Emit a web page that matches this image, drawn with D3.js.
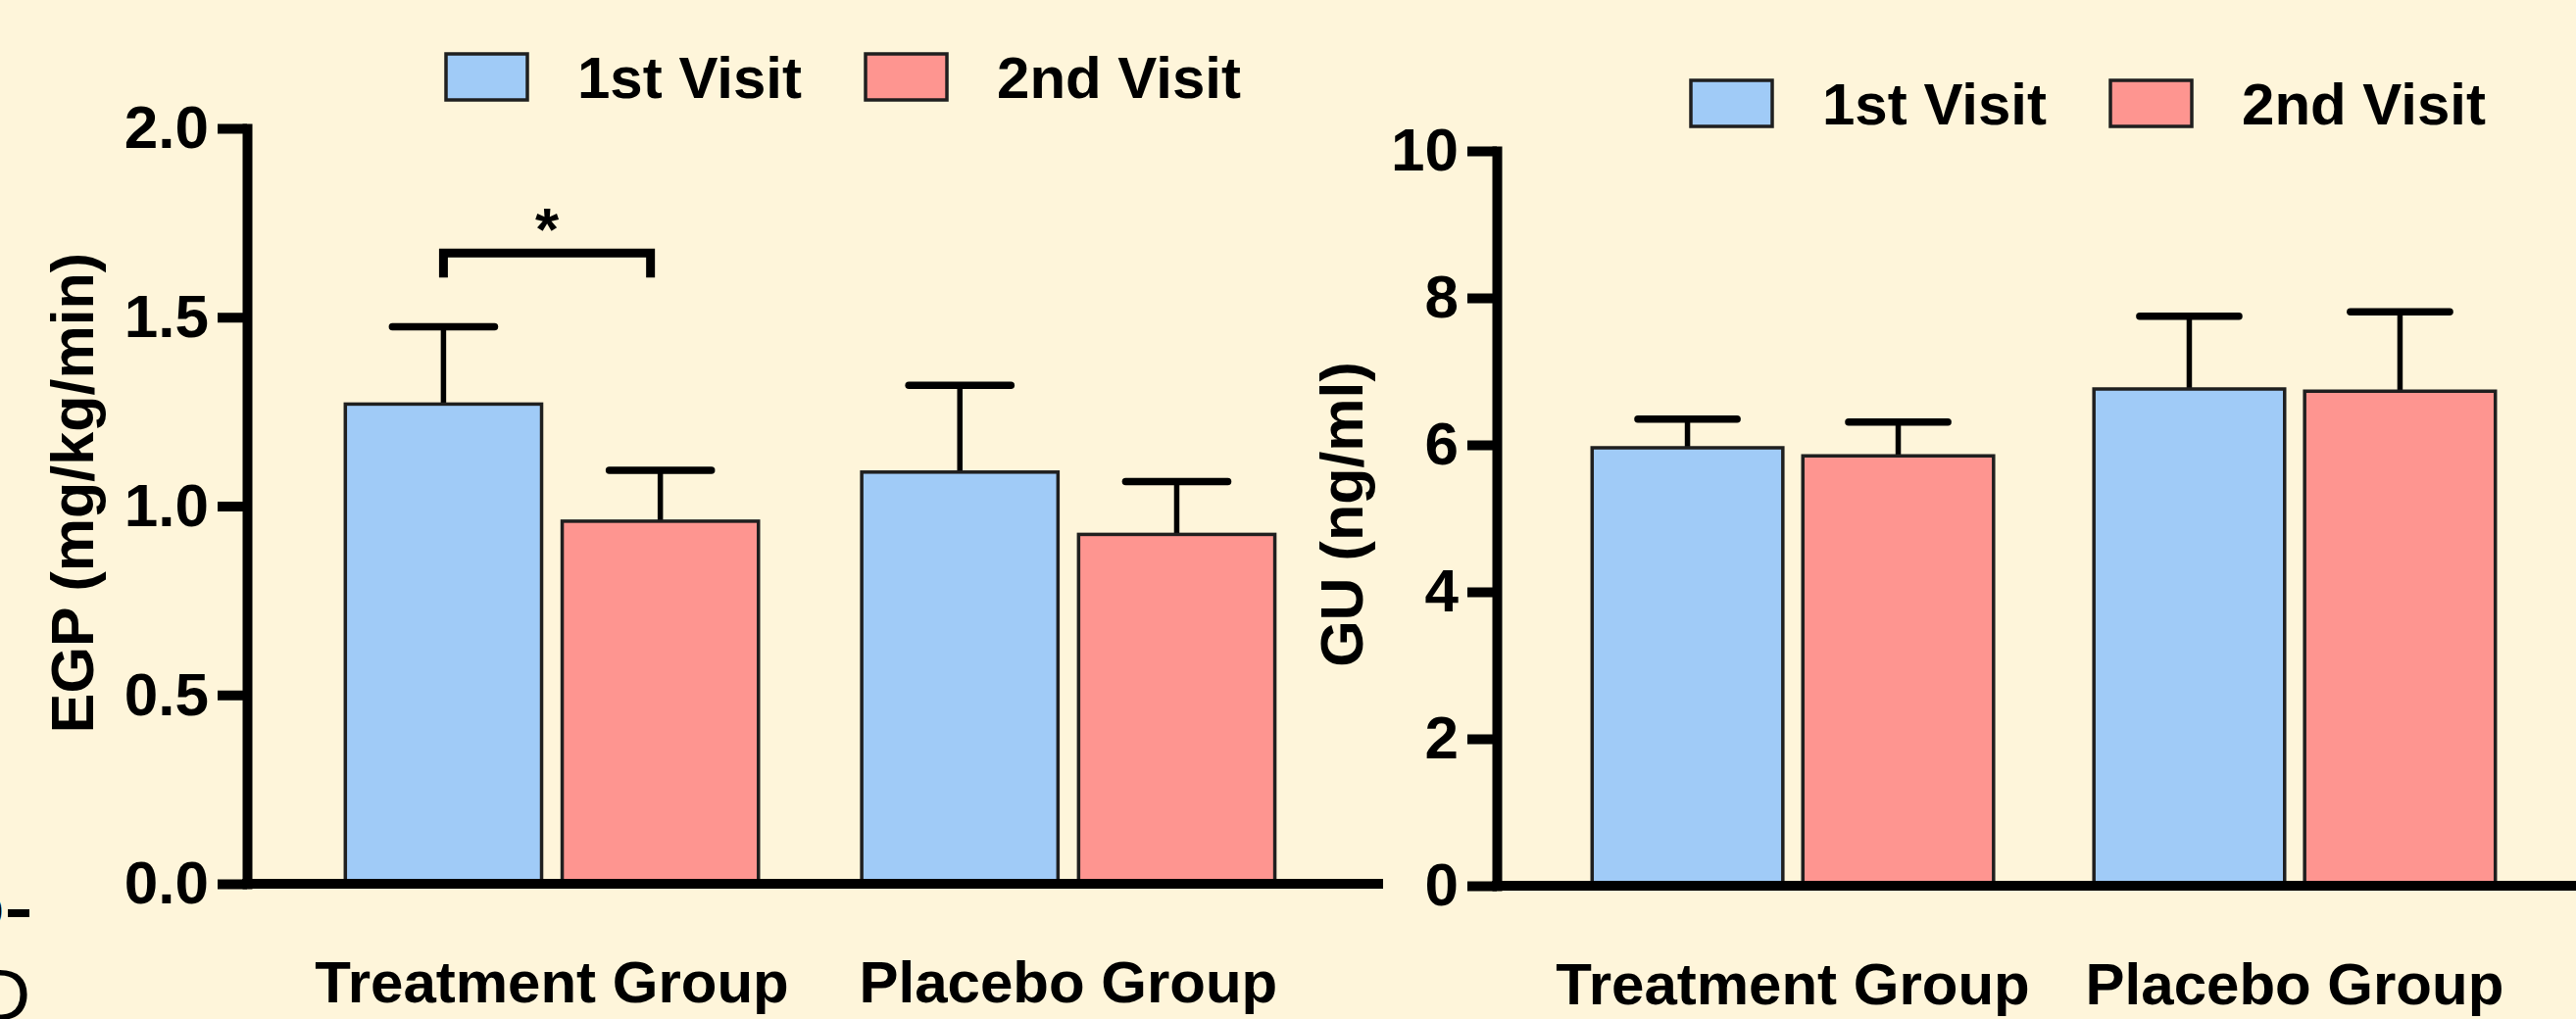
<!DOCTYPE html>
<html>
<head>
<meta charset="utf-8">
<script src="https://cdn.jsdelivr.net/npm/d3@7"></script>
<style>
  html, body { margin: 0; padding: 0; background: #fef5da; }
  svg { display: block; }
  text { font-family: 'Liberation Sans', Arial, Helvetica, sans-serif; font-weight: bold; fill: #000; }
</style>
</head>
<body>
<div id="chart"></div>
<script>
const WIDTH = 2628;
const HEIGHT = 1040;
const BG = '#fef5da';
const COLORS = ['#a0cbf7', '#fe9590'];

const GROUPS = ['Treatment Group', 'Placebo Group'];
const VISITS = ['1st Visit', '2nd Visit'];
// mean and upper error (SEM) per group, per visit
const EGP_MEAN = [[1.27, 0.96], [1.09, 0.925]];
const EGP_ERR = [[0.205, 0.135], [0.23, 0.14]];
const GU_MEAN = [[5.96, 5.85], [6.76, 6.73]];
const GU_ERR = [[0.39, 0.46], [0.99, 1.08]];
const EGP_TICKS = [0, 0.5, 1.0, 1.5, 2.0];
const GU_TICKS = [0, 2, 4, 6, 8, 10];
const EGP_SIG_LEVEL = 1.67;

const svg = d3.select('#chart').append('svg')
  .attr('width', WIDTH)
  .attr('height', HEIGHT);

svg.append('rect')
  .attr('width', WIDTH)
  .attr('height', HEIGHT)
  .attr('fill', BG);

const panels = [
  {
    means: EGP_MEAN, errs: EGP_ERR, ticks: EGP_TICKS, fmt: '.1f',
    title: 'EGP (mg/kg/min)', titleX: 95, titleY: 503,
    x0: 252, x1: 1411, yTop: 131, yBottom: 902, po: 0.2, align: 0.476,
    legendX: 455, legendY: 55, sig: EGP_SIG_LEVEL
  },
  {
    means: GU_MEAN, errs: GU_ERR, ticks: GU_TICKS, fmt: 'd',
    title: 'GU (ng/ml)', titleX: 1390, titleY: 525,
    x0: 1527, x1: 2643, yTop: 154, yBottom: 904, po: 0.19, align: 0.5,
    legendX: 1725, legendY: 82, sig: null
  }
];

panels.forEach(p => {
  const g = svg.append('g');

  const y = d3.scaleLinear()
    .domain([p.ticks[0], p.ticks[p.ticks.length - 1]])
    .range([p.yBottom, p.yTop]);
  const x = d3.scaleBand()
    .domain(GROUPS)
    .range([p.x0, p.x1])
    .paddingInner(0.2)
    .paddingOuter(p.po)
    .align(p.align);
  const xSub = d3.scaleBand()
    .domain(VISITS)
    .range([0, x.bandwidth()])
    .paddingInner(0.095);

  const rows = [];
  GROUPS.forEach((grp, gi) => {
    VISITS.forEach((v, vi) => {
      rows.push({ grp, v, vi, mean: p.means[gi][vi], err: p.errs[gi][vi] });
    });
  });

  // error bars (upper only)
  const bw = xSub.bandwidth();
  const capW = bw * 0.52;
  const eb = g.selectAll('.err').data(rows).enter().append('g');
  eb.append('line')
    .attr('x1', d => x(d.grp) + xSub(d.v) + bw / 2)
    .attr('x2', d => x(d.grp) + xSub(d.v) + bw / 2)
    .attr('y1', d => y(d.mean))
    .attr('y2', d => y(d.mean + d.err))
    .attr('stroke', '#000')
    .attr('stroke-width', 5.5);
  eb.append('line')
    .attr('x1', d => x(d.grp) + xSub(d.v) + bw / 2 - capW / 2)
    .attr('x2', d => x(d.grp) + xSub(d.v) + bw / 2 + capW / 2)
    .attr('y1', d => y(d.mean + d.err))
    .attr('y2', d => y(d.mean + d.err))
    .attr('stroke', '#000')
    .attr('stroke-width', 7.5)
    .attr('stroke-linecap', 'round');

  g.selectAll('.bar').data(rows).enter().append('rect')
    .attr('x', d => x(d.grp) + xSub(d.v))
    .attr('y', d => y(d.mean))
    .attr('width', bw)
    .attr('height', d => y(0) - y(d.mean))
    .attr('fill', d => COLORS[d.vi])
    .attr('stroke', '#1f1f1f')
    .attr('stroke-width', 3.5);

  // x axis line
  g.append('line')
    .attr('x1', p.x0 - 5)
    .attr('x2', p.x1)
    .attr('y1', y(0))
    .attr('y2', y(0))
    .attr('stroke', '#000')
    .attr('stroke-width', 10);

  // y axis
  const yAxis = g.append('g')
    .attr('transform', `translate(${p.x0},0)`)
    .call(d3.axisLeft(y)
      .tickValues(p.ticks)
      .tickFormat(d3.format(p.fmt))
      .tickSize(30)
      .tickSizeOuter(0)
      .tickPadding(9));
  yAxis.select('.domain')
    .attr('stroke', '#000')
    .attr('stroke-width', 10)
    .attr('stroke-linecap', 'square');
  yAxis.selectAll('.tick line')
    .attr('stroke', '#000')
    .attr('stroke-width', 10);
  yAxis.selectAll('.tick text')
    .attr('font-size', 62)
    .attr('font-family', null)
    .attr('fill', '#000');

  // category labels
  g.selectAll('.cat').data(GROUPS).enter().append('text')
    .attr('x', d => x(d) + x.bandwidth() / 2)
    .attr('y', p.yBottom + 121)
    .attr('text-anchor', 'middle')
    .attr('font-size', 60)
    .text(d => d);

  // y title
  g.append('text')
    .attr('transform', `translate(${p.titleX},${p.titleY}) rotate(-90)`)
    .attr('text-anchor', 'middle')
    .attr('font-size', 61)
    .text(p.title);

  // legend
  let cur = p.legendX;
  VISITS.forEach((v, i) => {
    g.append('rect')
      .attr('x', cur)
      .attr('y', p.legendY)
      .attr('width', 83)
      .attr('height', 47)
      .attr('fill', COLORS[i])
      .attr('stroke', '#1f1f1f')
      .attr('stroke-width', 3.5);
    const t = g.append('text')
      .attr('x', cur + 134)
      .attr('y', p.legendY + 45)
      .attr('font-size', 60)
      .text(v);
    cur = cur + 134 + t.node().getComputedTextLength() + 65;
  });

  // significance bracket
  if (p.sig !== null) {
    const xa = x(GROUPS[0]) + xSub(VISITS[0]) + bw / 2;
    const xb = x(GROUPS[0]) + xSub(VISITS[1]) + bw / 2 - 10;
    const yb = y(p.sig);
    g.append('path')
      .attr('d', `M${xa},${yb + 25}V${yb}H${xb}V${yb + 25}`)
      .attr('fill', 'none')
      .attr('stroke', '#000')
      .attr('stroke-width', 9);
    g.append('text')
      .attr('x', (xa + xb) / 2)
      .attr('y', yb - 3)
      .attr('text-anchor', 'middle')
      .attr('font-size', 62)
      .text('*');
  }
});

// clipped fragments of a neighbouring figure at the left edge
svg.append('text')
  .attr('x', 3)
  .attr('y', 944)
  .attr('text-anchor', 'end')
  .attr('font-size', 40)
  .text('0');
svg.append('line')
  .attr('x1', 8).attr('x2', 30)
  .attr('y1', 932).attr('y2', 932)
  .attr('stroke', '#000')
  .attr('stroke-width', 8);
svg.append('text')
  .attr('x', -23)
  .attr('y', 1041)
  .attr('font-size', 75)
  .style('font-weight', 'normal')
  .text('D');
</script>
</body>
</html>
